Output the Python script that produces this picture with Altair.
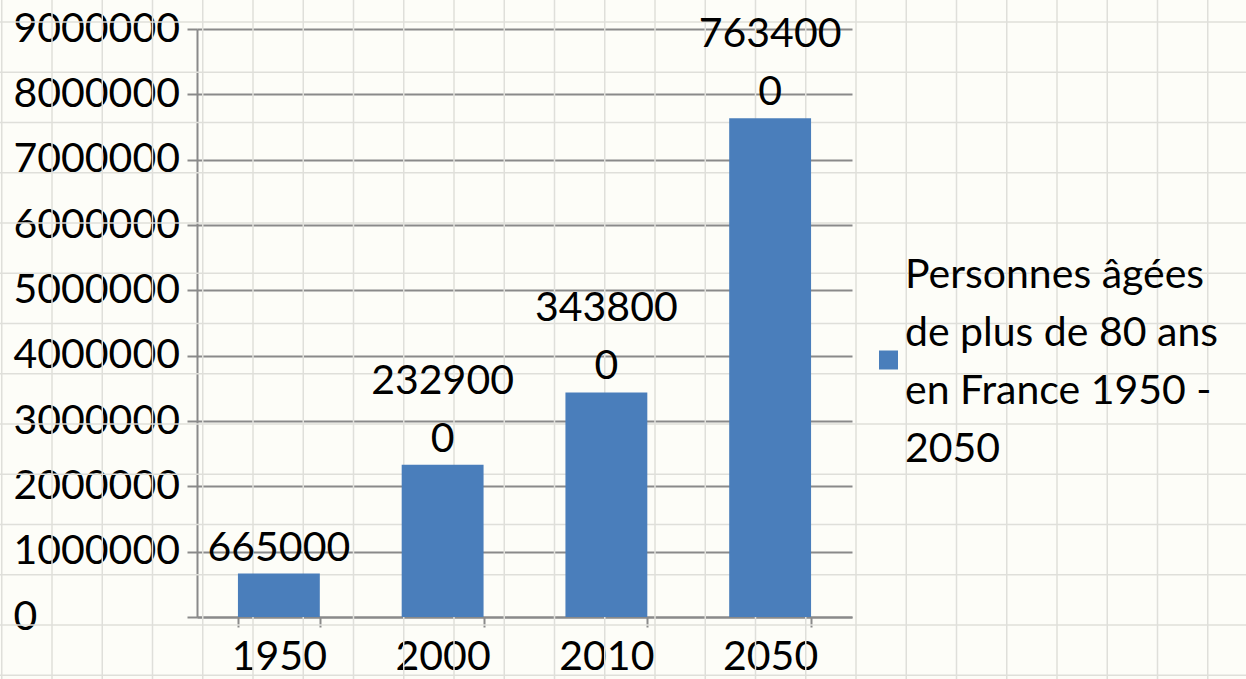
import altair as alt
import pandas as pd

# ---- data ----
years = ["1950", "2000", "2010", "2050"]
values = [665000, 2329000, 3438000, 7634000]
series_lines = ["Personnes âgées", "de plus de 80 ans", "en France 1950 -", "2050"]
y_ticks = [0, 1000000, 2000000, 3000000, 4000000, 5000000, 6000000, 7000000, 8000000, 9000000]

# ---- style ----
FONT = "Lato"
FS = 41
BAR = "#4A7EBB"
AXIS_GRAY = "#8A8A8A"
SHEET_LINE = "#DFDFDA"
BG = "#FDFDF8"
W, H = 655, 588
PAD = {"left": 197, "top": 29, "right": 394, "bottom": 62}
LH = 58  # label line height
WRAP = 6  # characters per label line

df = pd.DataFrame({"year": years, "value": values})

# spreadsheet background grid (decoration, pixel offsets relative to plot origin)
STEP = 50.25
vx = pd.DataFrame({"gx": [-195.25 + STEP * k for k in range(25)]})
hy = pd.DataFrame({"gy": [-7 + STEP * k for k in range(14)]})

grid_v = alt.Chart(vx).mark_rule(color=SHEET_LINE, strokeWidth=1.5).encode(
    x=alt.X("gx:Q", scale=None, axis=None),
    y=alt.value(-40),
    y2=alt.value(H + PAD["bottom"] + 10),
)
grid_h = alt.Chart(hy).mark_rule(color=SHEET_LINE, strokeWidth=1.5).encode(
    y=alt.Y("gy:Q", scale=None, axis=None),
    x=alt.value(-PAD["left"] - 10),
    x2=alt.value(W + PAD["right"] + 10),
)

base = alt.Chart(df).encode(
    x=alt.X(
        "year:N",
        sort=years,
        scale=alt.Scale(paddingInner=0.5, paddingOuter=0.25),
        axis=alt.Axis(
            title=None, labelAngle=0, tickBand="extent", tickSize=10, tickWidth=2,
            tickColor=AXIS_GRAY, domainColor=AXIS_GRAY, domainWidth=2,
            labelFont=FONT, labelFontSize=FS, labelColor="#000000", labelPadding=10,
            grid=False,
        ),
    ),
    y=alt.Y(
        "value:Q",
        scale=alt.Scale(domain=[0, 9000000], nice=False),
        axis=alt.Axis(
            title=None, values=y_ticks, format="d", tickSize=10, tickWidth=2,
            tickColor=AXIS_GRAY, domainColor=AXIS_GRAY, domainWidth=2,
            gridColor=AXIS_GRAY, gridWidth=2, grid=True,
            labelFont=FONT, labelFontSize=FS, labelColor="#000000",
            labelAlign="left", labelPadding=174, labelLimit=200,
        ),
    ),
)

bars = base.mark_bar(color=BAR)

lab = base.transform_calculate(s="toString(datum.value)")

# last (or only) line of each label, just above the bar
labels_low = lab.transform_calculate(
    t=f"length(datum.s) > {WRAP} ? substring(datum.s, {WRAP}) : datum.s"
).mark_text(
    font=FONT, fontSize=FS, color="#000000", baseline="alphabetic", dy=-13,
).encode(text="t:N")

# first line of wrapped labels
labels_high = lab.transform_filter(
    f"length(datum.s) > {WRAP}"
).transform_calculate(
    t=f"substring(datum.s, 0, {WRAP})"
).mark_text(
    font=FONT, fontSize=FS, color="#000000", baseline="alphabetic", dy=-13 - LH,
).encode(text="t:N")

legend_df = pd.DataFrame({"name": ["\n".join(series_lines)]})
legend_sym = alt.Chart(legend_df).mark_square(color=BAR, size=361, opacity=1).encode(
    x=alt.value(691.5), y=alt.value(331)
)
legend_txt = alt.Chart(legend_df).mark_text(
    font=FONT, fontSize=FS, color="#000000", align="left", baseline="alphabetic",
    lineBreak="\n", lineHeight=LH,
).encode(x=alt.value(708), y=alt.value(259), text="name:N")

chart = alt.layer(
    grid_v, grid_h, alt.layer(bars, labels_low, labels_high), legend_sym, legend_txt
).resolve_scale(
    x="independent", y="independent"
).properties(
    width=W, height=H, padding=PAD, autosize="none", background=BG
).configure_view(stroke=None)

chart.save("out.html", embed_options={"renderer": "svg", "actions": False})
